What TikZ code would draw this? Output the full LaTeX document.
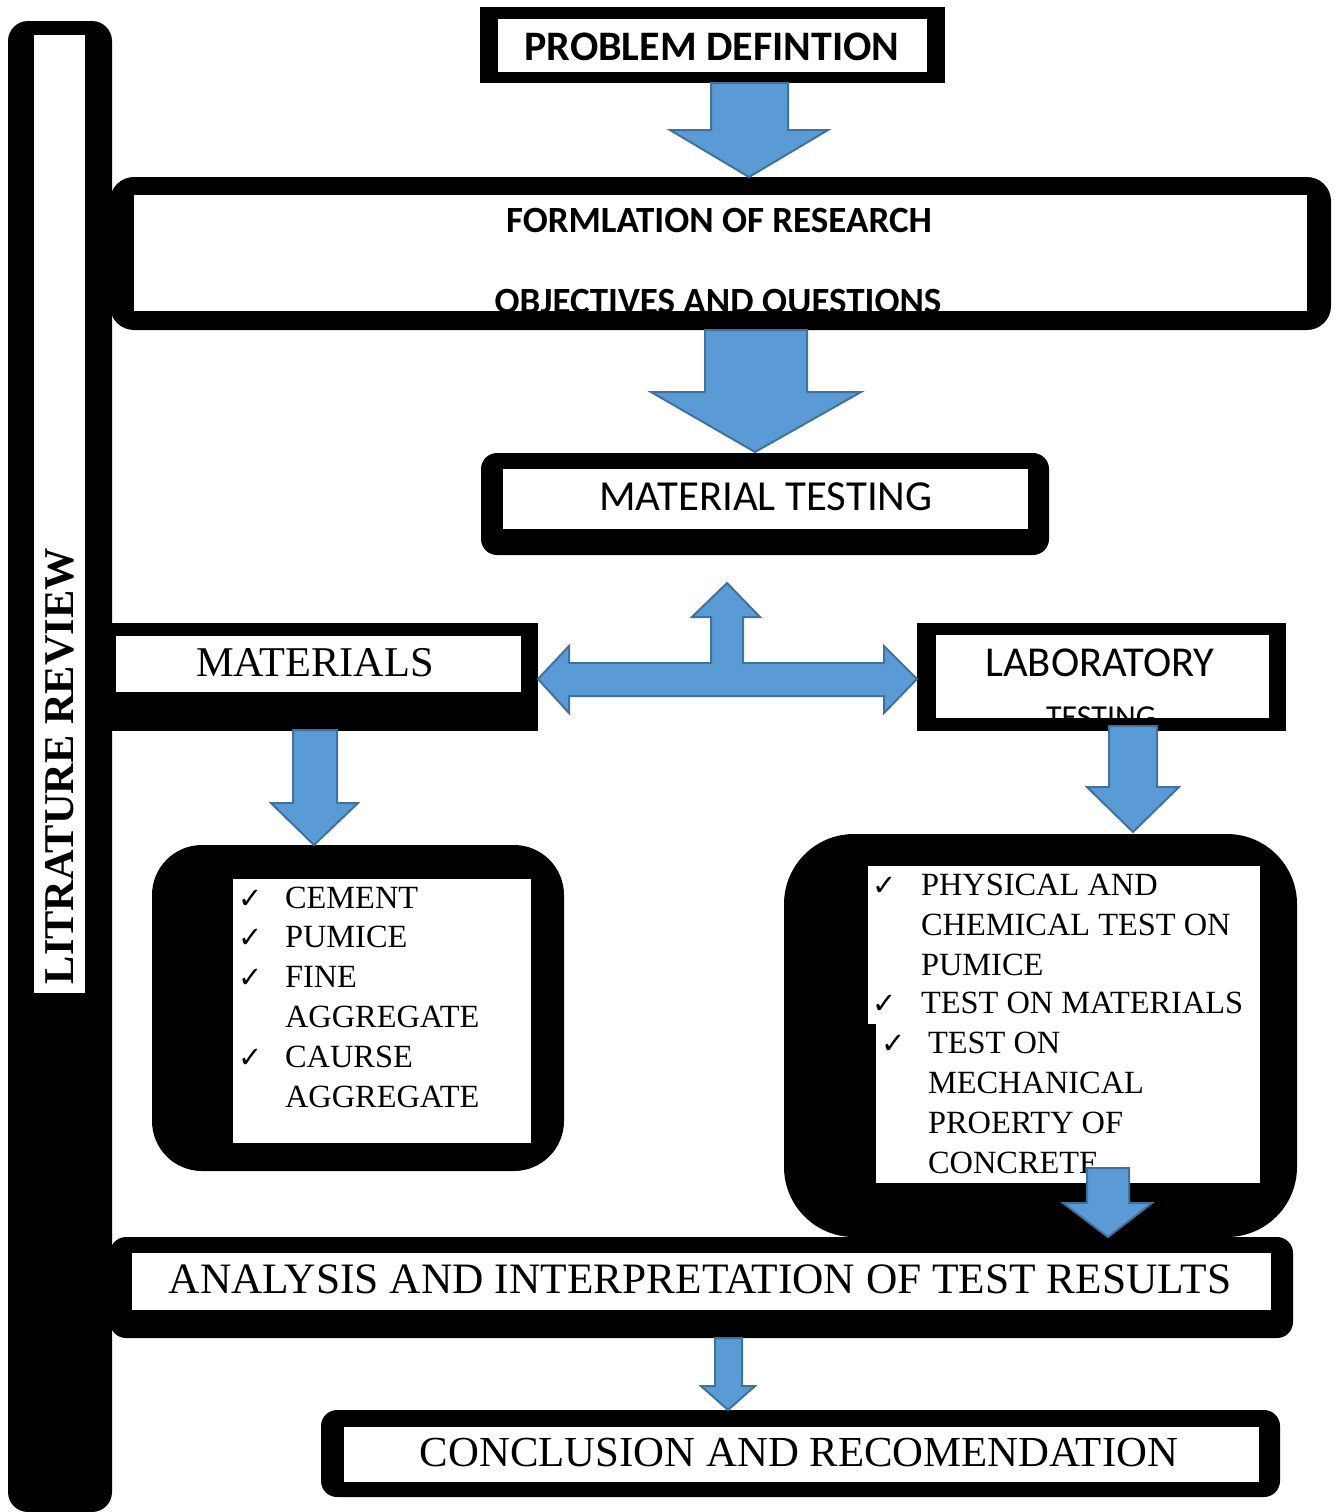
\documentclass[tikz,border=0pt]{standalone}
\usepackage{fontspec}
\setmainfont{Liberation Serif}
\newfontfamily\calfont{Carlito}
\newfontfamily\symfont{DejaVu Sans}
\definecolor{arrowfill}{HTML}{5B9BD5}
\definecolor{arrowline}{HTML}{41719C}
\tikzset{
  blockarrow/.style={fill=arrowfill, draw=arrowline, line width=1pt, line join=miter},
  txt/.style={inner sep=0pt, outer sep=0pt, anchor=base},
  ltxt/.style={inner sep=0pt, outer sep=0pt, anchor=base west},
}
\newcommand{\chk}{{\symfont\bfseries\fontsize{14.5}{14}\selectfont ✓}}
\begin{document}
\begin{tikzpicture}[x=0.5pt,y=-0.5pt]
\useasboundingbox (0,0) rectangle (1335,1512);
\fill[white] (0,0) rectangle (1335,1512);

% literature review bar
\fill[black, rounded corners=10pt] (8,21) rectangle (112,1512);
\fill[white] (34,35) rectangle (85,993);
\node[txt, rotate=90] (lit) at (73,766) {\bfseries\fontsize{21.2}{21}\selectfont LITRATURE REVIEW};

% problem definition
\fill[black] (480,7) rectangle (945,83);
\fill[white] (498,19) rectangle (927,72);
\node[txt] (prob) at (712,60) {\calfont\bfseries\fontsize{21}{21}\selectfont PROBLEM DEFINTION};

% formulation
\fill[black, rounded corners=12pt] (110,177) rectangle (1331,330);
\fill[white] (134,195) rectangle (1307,311);
\begin{scope}
\clip (134,195) rectangle (1307,311);
\node[txt] (form1) at (719,232) {\calfont\bfseries\fontsize{18.5}{18}\selectfont FORMLATION OF RESEARCH};
\node[txt] (form2) at (718,313) {\calfont\bfseries\fontsize{18.5}{18}\selectfont OBJECTIVES AND QUESTIONS};
\end{scope}

% material testing
\fill[black, rounded corners=8pt] (481,453) rectangle (1049,555);
\fill[white] (503,469) rectangle (1028,529);
\node[txt] (mt) at (766,510) {\calfont\fontsize{21.4}{21}\selectfont MATERIAL TESTING};

% materials
\fill[black] (112,623) rectangle (538,731);
\fill[white] (116,636) rectangle (521,692);
\node[txt] (mat) at (315,676) {\fontsize{21.2}{21}\selectfont MATERIALS};

% laboratory
\fill[black] (917,623) rectangle (1286,731);
\fill[white] (936,635) rectangle (1269,718);
\node[txt] (lab) at (1100,676) {\calfont\fontsize{21.3}{21}\selectfont LABORATORY};
\begin{scope}
\clip (936,635) rectangle (1269,718);
\node[txt] (labt) at (1101,727) {\calfont\fontsize{16}{16}\selectfont TESTING};
\end{scope}

% materials list
\fill[black, rounded corners=25pt] (152,845) rectangle (564,1171);
\fill[white] (233,879) rectangle (531,1143);
\foreach \y/\t/\c in {908/CEMENT/1, 947/PUMICE/1, 987/FINE/1, 1027/AGGREGATE/0, 1067/CAURSE/1, 1107/AGGREGATE/0}{
  \ifnum\c=1 \node[ltxt] at (238,\y) {\chk}; \fi
  \node[ltxt] at (285,\y) {\fontsize{16.2}{16}\selectfont \t};
}

% lab list
\fill[black, rounded corners=35pt] (784,834) rectangle (1297,1237);
\fill[white] (868,866) rectangle (1260,1024);
\fill[white] (876,1016) rectangle (1260,1183);
\node[ltxt] (c1) at (872,895) {\chk};
\node[ltxt] (c2) at (872,1013) {\chk};
\node[ltxt] (c3) at (881,1053) {\chk};
\foreach \y/\t in {895/PHYSICAL AND, 935/CHEMICAL TEST ON, 975/PUMICE, 1013/TEST ON MATERIALS}{
  \node[ltxt] at (921,\y) {\fontsize{16.2}{16}\selectfont \t};
}
\foreach \y/\t in {1053/TEST ON, 1093/MECHANICAL, 1133/PROERTY OF, 1173/CONCRETE}{
  \node[ltxt] at (928,\y) {\fontsize{16.2}{16}\selectfont \t};
}

% analysis
\fill[black, rounded corners=8pt] (110,1237) rectangle (1293,1338);
\fill[white] (132,1253) rectangle (1271,1310);
\node[txt] (ana) at (700,1293) {\fontsize{21.7}{22}\selectfont ANALYSIS AND INTERPRETATION OF TEST RESULTS};

% conclusion
\fill[black, rounded corners=8pt] (321,1410) rectangle (1280,1497);
\fill[white] (344,1427) rectangle (1259,1482);
\node[txt] (conc) at (799,1466) {\fontsize{21.4}{21}\selectfont CONCLUSION AND RECOMENDATION};

% arrows
\draw[blockarrow] (711,83) -- (788,83) -- (788,130) -- (828,130) -- (749,177) -- (670,130) -- (711,130) -- cycle;
\draw[blockarrow] (705,330) -- (807,330) -- (807,392) -- (861,392) -- (755,452) -- (651,392) -- (705,392) -- cycle;
\draw[blockarrow] (727,583) -- (760,617) -- (743,617) -- (743,663) -- (884,663) -- (884,646) -- (917,679) -- (884,713) -- (884,696) -- (569,696) -- (569,713) -- (538,679) -- (569,646) -- (569,663) -- (711,663) -- (711,617) -- (692,617) -- cycle;
\draw[blockarrow] (293,730) -- (337,730) -- (337,803) -- (358,803) -- (314,845) -- (271,803) -- (293,803) -- cycle;
\draw[blockarrow] (1109,726) -- (1157,726) -- (1157,787) -- (1179,787) -- (1133,832) -- (1087,787) -- (1109,787) -- cycle;
\draw[blockarrow] (1087,1168) -- (1129,1168) -- (1129,1203) -- (1152,1203) -- (1108,1237) -- (1063,1203) -- (1087,1203) -- cycle;
\draw[blockarrow] (715,1338) -- (742,1338) -- (742,1386) -- (755,1386) -- (728,1410) -- (701,1386) -- (715,1386) -- cycle;
\end{tikzpicture}
\end{document}
